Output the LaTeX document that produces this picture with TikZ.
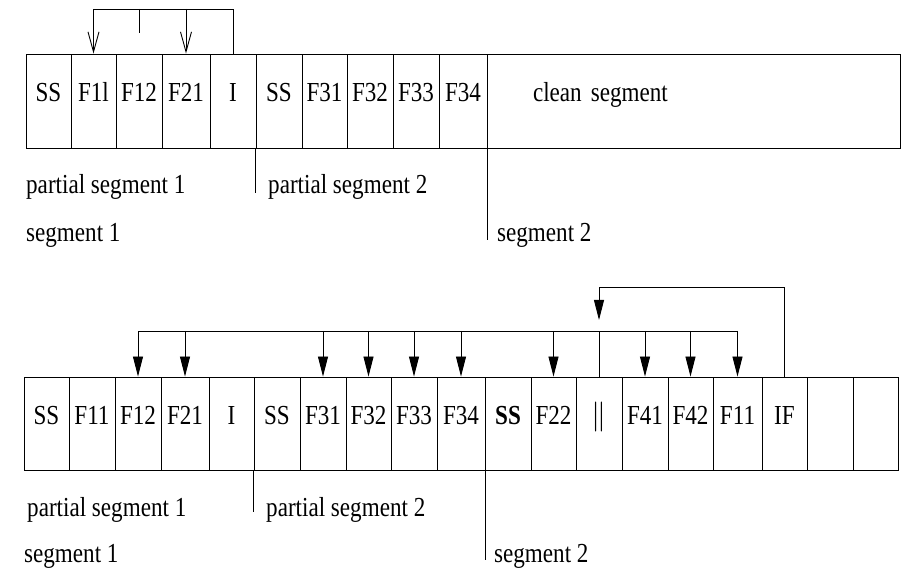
\documentclass[tikz,border=0pt]{standalone}
\usepackage{fontspec}
\setmainfont{Liberation Serif}[FakeStretch=0.84]
\usetikzlibrary{arrows.meta,positioning,calc}

\begin{document}
\begin{tikzpicture}[
  x=1pt, y=-1pt,
  every node/.style={font=\fontsize{27.5}{32}\selectfont},
  cell/.style={
    rectangle, draw, line width=0.9pt, inner sep=0pt,
    minimum height=94pt, text height=18pt, text depth=16pt
  },
  lowcell/.style={cell, minimum height=93pt},
  lbl/.style={anchor=west, inner sep=0pt},
  link/.style={line width=0.9pt},
  openarr/.style={link, -{Straight Barb[length=20pt,width=11pt]}},
  arr/.style={link, -{Triangle[length=20pt,width=10pt]}}
]
\useasboundingbox (0,0) rectangle (903,569);

% Upper log
\node[cell, minimum width=45pt] (t1) at (48.5,101) {SS};
\node[cell, minimum width=45pt] (t2) at (93.5,101) {F1l};
\node[cell, minimum width=46pt] (t3) at (139,101) {F12};
\node[cell, minimum width=48pt] (t4) at (186,101) {F21};
\node[cell, minimum width=46pt] (t5) at (233,101) {I};
\node[cell, minimum width=46pt] (t6) at (279,101) {SS};
\node[cell, minimum width=45pt] (t7) at (324.5,101) {F31};
\node[cell, minimum width=46pt] (t8) at (370,101) {F32};
\node[cell, minimum width=46pt] (t9) at (416,101) {F33};
\node[cell, minimum width=48pt] (t10) at (463,101) {F34};
\node[cell, minimum width=413pt, inner xsep=46pt, text width=321pt, align=left]
  (clean) at (693.5,101) {clean segment};

% Upper links
\coordinate (topbar) at (0,9);
\coordinate (stub) at ($(t3.north)+(0,-21)$);
\draw[openarr] (t5.north) |- (t2.north |- topbar) -- (t2.north);
\draw[openarr] (t4.north |- topbar) -- (t4.north);
\draw[link] (t3.north |- topbar) -- (stub);

% Upper labels
\coordinate (tcut1) at ($(t6.south west)+(0,45)$);
\coordinate (tcut2) at ($(t10.south east)+(0,92)$);
\draw[link] (t6.south west) -- (tcut1);
\draw[link] (t10.south east) -- (tcut2);
\node[lbl] (tps1) at (26,187) {partial segment 1};
\node[lbl] (tps2) at (268,187) {partial segment 2};
\node[lbl] (tseg1) at (26,235) {segment 1};
\node[lbl] (tseg2) at (497,235) {segment 2};

% Lower log
\node[lowcell, minimum width=45pt] (b1) at (46.5,423.5) {SS};
\node[lowcell, minimum width=46pt] (b2) at (92,423.5) {F11};
\node[lowcell, minimum width=46pt] (b3) at (138,423.5) {F12};
\node[lowcell, minimum width=48pt] (b4) at (185,423.5) {F21};
\node[lowcell, minimum width=45pt] (b5) at (231.5,423.5) {I};
\node[lowcell, minimum width=46pt] (b6) at (277,423.5) {SS};
\node[lowcell, minimum width=46pt] (b7) at (323,423.5) {F31};
\node[lowcell, minimum width=45pt] (b8) at (368.5,423.5) {F32};
\node[lowcell, minimum width=46pt] (b9) at (414,423.5) {F33};
\node[lowcell, minimum width=48pt] (b10) at (461,423.5) {F34};
\node[lowcell, minimum width=46pt] (b11) at (508,423.5) {\textbf{SS}};
\node[lowcell, minimum width=45pt] (b12) at (553.5,423.5) {F22};
\node[lowcell, minimum width=46pt] (b13) at (599,423.5) {\resizebox*{!}{30pt}{$\Vert$}};
\node[lowcell, minimum width=46pt] (b14) at (645,423.5) {F41};
\node[lowcell, minimum width=45pt] (b15) at (690.5,423.5) {F42};
\node[lowcell, minimum width=49pt] (b16) at (737.5,423.5) {F11};
\node[lowcell, minimum width=45pt] (b17) at (784.5,423.5) {IF};
\node[lowcell, minimum width=46pt] (b18) at (830,423.5) {};
\node[lowcell, minimum width=45pt] (b19) at (875.5,423.5) {};

% Lower links
\coordinate (lowbar) at (0,331);
\coordinate (highbar) at (0,287);
\coordinate (feed) at ($(b13.north |- lowbar)+(0,-11)$);
\draw[arr] (b16.north |- lowbar) -| (b3.north);
\draw[arr] (b4.north |- lowbar) -- (b4.north);
\draw[arr] (b7.north |- lowbar) -- (b7.north);
\draw[arr] (b8.north |- lowbar) -- (b8.north);
\draw[arr] (b9.north |- lowbar) -- (b9.north);
\draw[arr] (b10.north |- lowbar) -- (b10.north);
\draw[arr] (b12.north |- lowbar) -- (b12.north);
\draw[arr] (b14.north |- lowbar) -- (b14.north);
\draw[arr] (b15.north |- lowbar) -- (b15.north);
\draw[arr] (b16.north |- lowbar) -- (b16.north);
\draw[link] (b13.north) -- (b13.north |- lowbar);
\draw[arr] (b17.north) |- (b13.north |- highbar) -- (feed);

% Lower labels
\coordinate (bcut1) at ($(b6.south west)+(0,42)$);
\coordinate (bcut2) at ($(b10.south east)+(0,90)$);
\draw[link] (b6.south west) -- (bcut1);
\draw[link] (b10.south east) -- (bcut2);
\node[lbl] (bps1) at (27,510) {partial segment 1};
\node[lbl] (bps2) at (266,510) {partial segment 2};
\node[lbl] (bseg1) at (24,556) {segment 1};
\node[lbl] (bseg2) at (494,556) {segment 2};

\end{tikzpicture}
\end{document}
